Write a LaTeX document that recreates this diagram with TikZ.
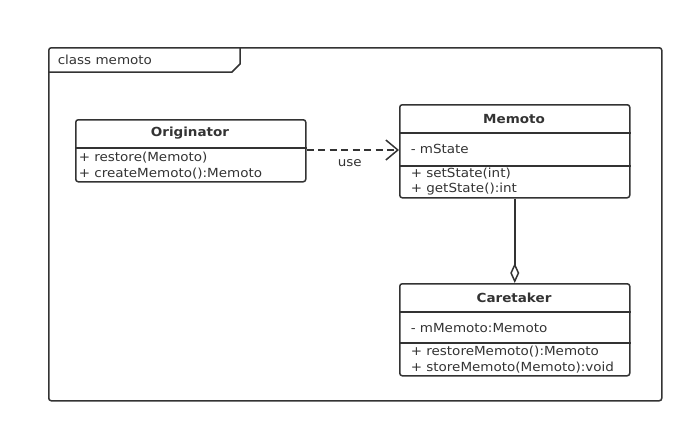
\documentclass[tikz,border=0pt]{standalone}
\usepackage{fontspec}
\setmainfont{DejaVu Sans}[FakeStretch=1.08]
\usetikzlibrary{arrows.meta}
\definecolor{ink}{HTML}{333333}
\begin{document}
\begin{tikzpicture}[x=1pt,y=-1pt,
  line width=1.5pt, draw=ink, text=ink,
  every node/.style={font=\fontsize{12.5}{15}\selectfont},
  cls/.style={draw=ink, line width=1.5pt, rounded corners=2.5pt, minimum width=230pt, inner sep=0pt, anchor=north west},
  frm/.style={draw=ink, line width=1.5pt, rounded corners=2.5pt, minimum width=613pt, minimum height=353pt, inner sep=0pt, anchor=north west},
  ttl/.style={font=\fontsize{12.5}{15}\selectfont\bfseries},
  mem/.style={anchor=west, inner sep=0pt},
]
\useasboundingbox (0,0) rectangle (692,432);
% frame
\node[frm] (frame) at (48,47) {};
\coordinate (tabA) at (48,72);
\coordinate (tabB) at (232,72);
\coordinate (tabC) at (240,64);
\coordinate (tabD) at (240,47);
\draw (tabA) -- (tabB) -- (tabC) -- (tabD);
\node[mem] (frametitle) at (57,60) {class memoto};

% Originator
\node[cls, minimum height=62pt] (orig) at (75,119) {};
\draw (orig.west |- 0,148) -- (orig.east |- 0,148);
\node[ttl] (origT) at (190,133) {Originator};
\node[mem] (o1) at (78,158) {+ restore(Memoto)};
\node[mem] (o2) at (78,173.5) {+ createMemoto():Memoto};

% Memoto
\node[cls, minimum height=93pt] (memo) at (399,104) {};
\draw (memo.west |- 0,133) -- (memo.east |- 0,133);
\draw (memo.west |- 0,166) -- (memo.east |- 0,166);
\node[ttl] (memoT) at (514,119) {Memoto};
\node[mem] (m1) at (410,149) {- mState};
\node[mem] (m2) at (410,174) {+ setState(int)};
\node[mem] (m3) at (410,189.5) {+ getState():int};

% Caretaker
\node[cls, minimum height=92pt] (care) at (399,283) {};
\draw (care.west |- 0,312) -- (care.east |- 0,312);
\draw (care.west |- 0,343) -- (care.east |- 0,343);
\node[ttl] (careT) at (514,298) {Caretaker};
\node[mem] (c1) at (410,328) {- mMemoto:Memoto};
\node[mem] (c2) at (410,351.5) {+ restoreMemoto():Memoto};
\node[mem] (c3) at (410,367.5) {+ storeMemoto(Memoto):void};

% connectors
\draw[dash pattern=on 7pt off 4.5pt, -{Straight Barb[length=12pt,width=20pt,line width=1.5pt]}]
  (orig.east |- 0,150) -- node[below=9pt, inner sep=0pt, xshift=-3pt] (use) {use} (memo.west |- 0,150);
\draw[-{Diamond[open,length=20pt,width=9pt,line width=1.5pt]}] (memo.south) -- (care.north);
\end{tikzpicture}
\end{document}
